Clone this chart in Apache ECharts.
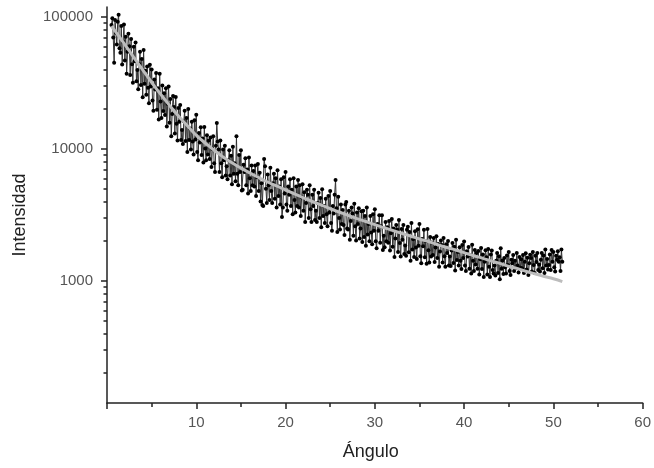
<!DOCTYPE html>
<html>
<head>
<meta charset="utf-8">
<script src="https://cdn.jsdelivr.net/npm/echarts@6/dist/echarts.min.js"></script>
<style>
  html, body { margin: 0; padding: 0; background: #fff; }
  #chart { width: 654px; height: 468px; }
</style>
</head>
<body>
<div id="chart"></div>
<script>
// measured intensity, one value every 0.1 degree starting at 0.5
const angleStart = 0.5;
const angleStep = 0.1;
const intensity = [
  87000, 98000, 70000, 45000, 95000, 76000, 62000, 92000, 104000, 58000,
  53600, 85600, 43700, 64900, 87800, 46800, 70900, 37100, 54500, 74500,
  60000, 36400, 68000, 43800, 31800, 59400, 46100, 64100, 32600, 39600,
  28300, 44100, 54600, 30500, 48100, 24600, 56300, 31200, 39100, 25800,
  42200, 29100, 22200, 43500, 29700, 40000, 23300, 19500, 33600, 28200,
  37600, 19800, 28900, 16700, 37200, 22900, 17200, 30300, 19400, 26400,
  18100, 28900, 14800, 21900, 29700, 15800, 23900, 12500, 18400, 25200,
  20800, 13100, 24800, 15500, 11600, 20400, 16100, 21500, 11700, 13900,
  10900, 16200, 19500, 11500, 17200, 9500, 20100, 11700, 14300, 9900,
  16100, 11400, 9100, 16500, 11800, 18200, 9500, 8200, 13200, 11200,
  14600, 9000, 12000, 7900, 14700, 10100, 8200, 12700, 9100, 11600,
  8400, 12200, 7300, 10000, 12500, 7800, 6700, 10600, 15700, 11400,
  9900, 6700, 11600, 7800, 6100, 9900, 8200, 10600, 6300, 7400,
  5900, 8200, 9800, 6300, 8900, 5400, 10400, 6500, 7800, 5700,
  12500, 6500, 5300, 9000, 6700, 9800, 4840, 4900, 7600, 6700,
  8500, 5300, 7000, 4600, 8600, 6000, 4800, 7500, 5300, 6800,
  5200, 7500, 4400, 6100, 7700, 4800, 6600, 4000, 5500, 3770,
  3700, 8400, 7400, 5000, 3900, 6400, 5300, 4100, 7200, 4800,
  3900, 5500, 6500, 4200, 6000, 3600, 6900, 4400, 5200, 3800,
  5900, 3050, 3600, 6100, 4600, 6700, 3800, 3400, 5200, 4500,
  5900, 3700, 4900, 3200, 6000, 4100, 3300, 5200, 3700, 5830,
  3600, 5300, 3100, 4300, 5400, 3400, 4700, 2800, 3900, 4900,
  4500, 3000, 5300, 3500, 2800, 4500, 3700, 4900, 2900, 3400,
  2800, 3900, 4650, 3000, 4250, 2550, 4950, 3100, 3700, 2750,
  4200, 3200, 2600, 4400, 3300, 4800, 2750, 2400, 3700, 3250,
  4500, 5830, 3550, 2350, 4350, 3000, 2450, 3800, 2700, 3450,
  2650, 2230, 3800, 3960, 2500, 2450, 3400, 2050, 2850, 3600,
  3250, 2200, 3850, 2600, 2030, 3300, 2700, 3550, 2100, 2500,
  3370, 1970, 3400, 2150, 3100, 1850, 3600, 2250, 2700, 2000,
  3100, 2330, 1900, 3200, 2400, 3500, 2000, 1770, 2700, 2400,
  3150, 1950, 2600, 3150, 1720, 2200, 1800, 2800, 2000, 2550,
  1950, 2850, 1700, 2300, 2950, 1820, 2500, 1520, 2100, 2650,
  2450, 1660, 2900, 1940, 1530, 2480, 2050, 2650, 1600, 1860,
  1550, 2440, 2580, 1650, 2350, 1420, 2750, 1730, 2070, 1520,
  2380, 1790, 1470, 2470, 1850, 2700, 1540, 1360, 2080, 1830,
  2440, 1510, 2010, 1350, 2480, 1710, 1380, 2150, 1530, 1960,
  1570, 2120, 1390, 1790, 2180, 1490, 1910, 1280, 1670, 2030,
  1870, 1380, 2120, 1540, 1280, 1900, 1630, 2010, 1310, 1530,
  1300, 1700, 1940, 1370, 1820, 1200, 2050, 1440, 1660, 1310,
  1800, 1420, 1230, 1870, 1490, 1990, 1310, 1190, 1680, 1530,
  1810, 1240, 1570, 1140, 1880, 1420, 1190, 1720, 1330, 1630,
  1240, 1690, 1120, 1460, 1780, 1230, 1590, 1070, 1400, 1710,
  1510, 1120, 1750, 1280, 1070, 1590, 1700, 1210, 1140, 1310,
  1100, 1420, 1630, 1150, 1540, 1030, 1770, 1240, 1430, 1130,
  1490, 1270, 1140, 1560, 1320, 1660, 1190, 1110, 1450, 1360,
  1570, 1190, 1420, 1250, 1630, 1310, 1160, 1520, 1260, 1460,
  1250, 1570, 1150, 1400, 1620, 1220, 1500, 1110, 1360, 1580,
  1490, 1180, 1660, 1320, 1150, 1550, 1390, 1630, 1210, 1330,
  1180, 1450, 1630, 1250, 1560, 1150, 1730, 1310, 1470, 1220,
  1320, 1590, 1210, 1720, 1400, 1660, 1270, 1180, 1550, 1450,
  1680, 1400, 1510, 1190, 1730, 1400
];

// fitted curve (grey)
const fitAngles = [0.5, 1, 2, 3, 4, 5, 6, 7, 8, 9, 10, 11, 12, 13, 14, 15, 16, 17, 18, 19, 20,
  21, 22, 23, 24, 25, 26, 27, 28, 29, 30, 31, 32, 33, 34, 35, 36, 37, 38, 39, 40,
  41, 42, 43, 44, 45, 46, 47, 48, 49, 50, 51];
const fitValues = [85100, 76700, 61700, 49500, 39800, 32000, 26000, 21400, 17800, 15000, 12700,
  11100, 9770, 8710, 7850, 7160, 6580, 6070, 5620, 5250, 4900,
  4570, 4270, 4000, 3760, 3530, 3330, 3140, 2970, 2820, 2670,
  2540, 2420, 2300, 2190, 2080, 1990, 1890, 1800, 1720, 1640,
  1560, 1490, 1420, 1360, 1290, 1240, 1180, 1130, 1080, 1040, 990];

const yMajorTicks = [1000, 10000, 100000];
const yMinorTicks = [200, 300, 400, 500, 600, 700, 800, 900,
  2000, 3000, 4000, 5000, 6000, 7000, 8000, 9000,
  20000, 30000, 40000, 50000, 60000, 70000, 80000, 90000];

const measured = intensity.map((v, i) => [+(angleStart + i * angleStep).toFixed(1), v]);
const fitted = fitAngles.map((a, i) => [a, fitValues[i]]);

const chart = echarts.init(document.getElementById('chart'));
const font = 'Arial, "Liberation Sans", sans-serif';
const axisColor = '#222';

chart.setOption({
  animation: false,
  backgroundColor: '#fff',
  grid: { left: 107, right: 10, top: 7, bottom: 65 },
  xAxis: {
    type: 'value',
    min: 0, max: 60, interval: 10,
    name: 'Ángulo',
    nameLocation: 'middle',
    nameGap: 40,
    nameTextStyle: { fontSize: 18, color: '#222', fontFamily: font, padding: [0, 8, 0, 0] },
    axisLine: { lineStyle: { color: axisColor, width: 1.5 } },
    axisTick: { length: 6, lineStyle: { color: axisColor, width: 1.5 } },
    minorTick: { show: true, splitNumber: 2, length: 4, lineStyle: { color: axisColor, width: 1.5 } },
    axisLabel: { showMinLabel: false, margin: 12, fontSize: 15, color: '#555', fontFamily: font },
    splitLine: { show: false }
  },
  yAxis: [
    {
      type: 'log',
      min: 119, max: 119000,
      name: 'Intensidad',
      nameLocation: 'middle',
      nameRotate: 90,
      nameGap: 78,
      nameTextStyle: { fontSize: 18, color: '#222', fontFamily: font, padding: [0, 20, 0, 0] },
      axisLine: { show: true, lineStyle: { color: axisColor, width: 1.5 } },
      axisTick: { show: true, customValues: yMajorTicks, length: 6, lineStyle: { color: axisColor, width: 1.5 } },
      axisLabel: {
        customValues: yMajorTicks,
        margin: 14, fontSize: 15, color: '#555', fontFamily: font,
        formatter: (v) => String(Math.round(v))
      },
      splitLine: { show: false }
    },
    {
      // second copy of the log axis, only for the short minor ticks
      type: 'log',
      min: 119, max: 119000,
      position: 'left',
      axisLine: { show: false },
      axisTick: { show: true, customValues: yMinorTicks, length: 3.5, lineStyle: { color: axisColor, width: 1.5 } },
      axisLabel: { show: false },
      splitLine: { show: false }
    }
  ],
  series: [
    {
      type: 'line',
      data: measured,
      yAxisIndex: 0,
      symbol: 'circle',
      symbolSize: 4,
      showAllSymbol: true,
      itemStyle: { color: '#000' },
      lineStyle: { color: '#333', width: 1 },
      z: 2
    },
    {
      type: 'line',
      data: fitted,
      yAxisIndex: 0,
      smooth: true,
      symbol: 'none',
      lineStyle: { color: '#bcbcbc', width: 3 },
      z: 3
    }
  ]
});
</script>
</body>
</html>
